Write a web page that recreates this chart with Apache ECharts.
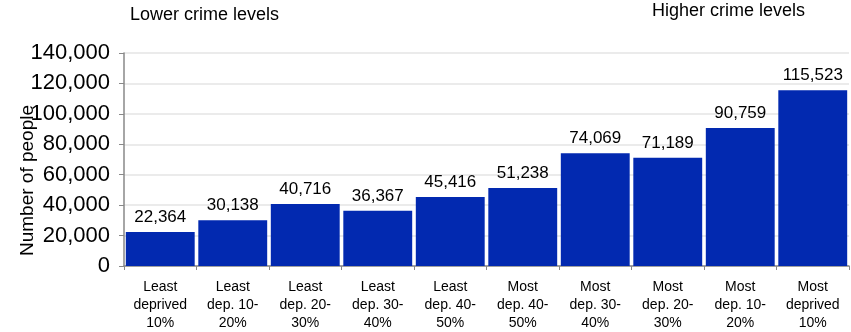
<!DOCTYPE html>
<html>
<head>
<meta charset="utf-8">
<script src="https://cdn.jsdelivr.net/npm/echarts@6/dist/echarts.min.js"></script>
<style>
  html, body { margin: 0; padding: 0; background: #fff; }
  #main { width: 851px; height: 332px; }
</style>
</head>
<body>
<div id="main"></div>
<script>
// categories (deprivation deciles)
var categories = [
    'Least\ndeprived\n10%', 'Least\ndep. 10-\n20%', 'Least\ndep. 20-\n30%', 'Least\ndep. 30-\n40%', 'Least\ndep. 40-\n50%',
    'Most\ndep. 40-\n50%', 'Most\ndep. 30-\n40%', 'Most\ndep. 20-\n30%', 'Most\ndep. 10-\n20%', 'Most\ndeprived\n10%'
];
// number of people
var people = [22364, 30138, 40716, 36367, 45416, 51238, 74069, 71189, 90759, 115523];

var chart = echarts.init(document.getElementById('main'));
var font = '"Liberation Sans", Arial, sans-serif';

chart.setOption({
    animation: false,
    textStyle: {fontFamily: font},
    grid: {left: 124, right: 2, top: 53, bottom: 66, containLabel: false, outerBoundsMode: 'none'},
    graphic: [
        {type: 'text', left: 130, top: 6, style: {text: 'Lower crime levels', font: '18px ' + font, fill: '#000'}},
        {type: 'text', left: 652, top: 2, style: {text: 'Higher crime levels', font: '18px ' + font, fill: '#000'}}
    ],
    xAxis: {
        type: 'category',
        data: categories,
        axisLine: {lineStyle: {color: '#888', width: 1.5}},
        axisTick: {show: true, length: 4, lineStyle: {color: '#888'}},
        axisLabel: {color: '#000', fontSize: 14, lineHeight: 18, margin: 12, interval: 0}
    },
    yAxis: {
        type: 'value',
        min: 0, max: 140000, interval: 20000,
        name: 'Number of people',
        nameLocation: 'middle',
        nameGap: 87,
        nameMoveOverlap: false,
        nameTextStyle: {fontSize: 19, color: '#000', padding: [0, 42, 0, 0]},
        axisLine: {show: true, lineStyle: {color: '#888', width: 1.5}},
        axisTick: {show: true, length: 5, lineStyle: {color: '#888'}},
        axisLabel: {
            color: '#000', fontSize: 22, margin: 14,
            formatter: function (v) { return v.toLocaleString('en-US'); }
        },
        splitLine: {lineStyle: {color: '#ebebeb', width: 2}}
    },
    series: [{
        type: 'bar',
        data: people,
        barCategoryGap: '5%',
        itemStyle: {color: '#0229b0'},
        label: {
            show: true, position: 'top', distance: 6,
            color: '#000', fontSize: 17,
            formatter: function (p) { return p.value.toLocaleString('en-US'); }
        }
    }]
});
</script>
</body>
</html>
